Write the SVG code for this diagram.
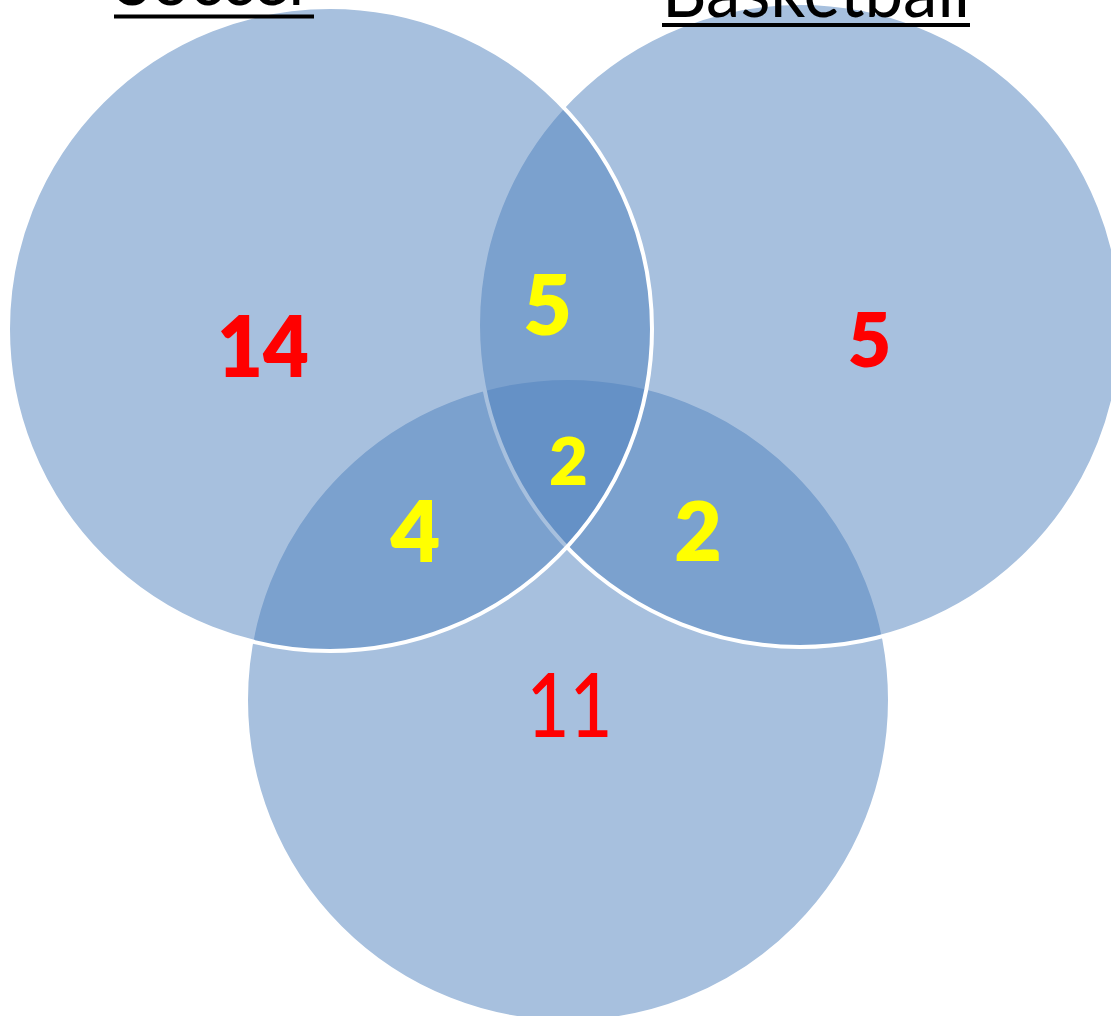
<svg xmlns="http://www.w3.org/2000/svg" width="1111" height="1016" viewBox="0 0 1111 1016">
  <style>
    .set { fill: #4F81BD; fill-opacity: 0.5; stroke: #FFFFFF; stroke-width: 4; }
    .title { font-family: "Lato", "Open Sans", "Liberation Sans", sans-serif; font-size: 74px; fill: #000000; }
    .uline { stroke: #000000; stroke-width: 4; }
    .num { font-family: "Lato", "Open Sans", "Liberation Sans", sans-serif; font-weight: 800; text-anchor: middle; }
    .num.light { font-weight: 500; }
    .only { fill: #FF0000; }
    .shared { fill: #FFFF00; }
  </style>
  <rect width="1111" height="1016" fill="#FFFFFF"/>

  <!-- sets: drawn bottom first, soccer last so its outline stays on top -->
  <g id="set-bottom">
    <circle class="set" cx="568" cy="700" r="322"/>
  </g>
  <g id="set-basketball">
    <circle class="set" cx="800" cy="325" r="322"/>
    <text class="title" x="662" y="17" textLength="308" lengthAdjust="spacingAndGlyphs">Basketball</text>
    <line class="uline" x1="662" y1="25" x2="970" y2="25"/>
  </g>
  <g id="set-soccer">
    <circle class="set" cx="330" cy="329" r="322"/>
    <text class="title" x="115" y="5" textLength="198" lengthAdjust="spacingAndGlyphs">Soccer</text>
    <line class="uline" x1="114" y1="16.5" x2="314" y2="16.5"/>
  </g>

  <!-- region counts -->
  <g id="counts">
    <text class="num only" x="263" y="377" font-size="86" textLength="92" lengthAdjust="spacingAndGlyphs">14</text>
    <text class="num only" x="869.5" y="367" font-size="75">5</text>
    <text class="num shared" x="547.5" y="335" font-size="84">5</text>
    <text class="num shared" x="568.5" y="485" font-size="67">2</text>
    <text class="num shared" x="415.5" y="562" font-size="86">4</text>
    <text class="num shared" x="698" y="561" font-size="82">2</text>
    <text class="num light only" x="569.5" y="737" font-size="89" textLength="86" lengthAdjust="spacingAndGlyphs">11</text>
  </g>
</svg>
